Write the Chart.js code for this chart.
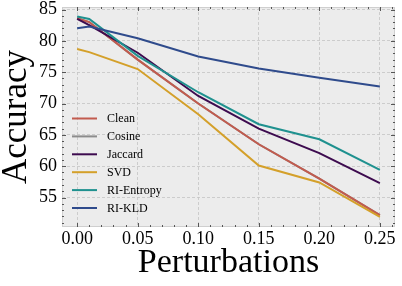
<!DOCTYPE html>
<html>
<head>
<meta charset="utf-8">
<script src="https://cdn.jsdelivr.net/npm/chart.js@4"></script>
<style>
  html, body { margin: 0; padding: 0; background: #fff; }
  #wrap { width: 402px; height: 286px; }
</style>
</head>
<body>
<div id="wrap"><canvas id="chart" width="402" height="286"></canvas></div>
<script>
// perturbation levels (x) and accuracy per method
const perturbations = [0, 0.01, 0.05, 0.10, 0.15, 0.20, 0.25];
const clean     = [83.6, 83.0, 77.0, 70.0, 63.5, 58.0, 52.2];
const cosine    = [83.6, 83.0, 77.0, 70.0, 63.5, 58.0, 52.2];
const jaccard   = [83.5, 82.5, 78.1, 71.2, 66.0, 62.1, 57.3];
const svd       = [78.7, 78.2, 75.5, 68.3, 60.1, 57.4, 51.9];
const riEntropy = [83.9, 83.5, 77.6, 71.8, 66.7, 64.3, 59.4];
const riKld     = [82.0, 82.3, 80.4, 77.5, 75.6, 74.1, 72.7];

const names  = ['Clean', 'Cosine', 'Jaccard', 'SVD', 'RI-Entropy', 'RI-KLD'];
const series = [clean, cosine, jaccard, svd, riEntropy, riKld];
const colors = ['#c25b4e', '#8c8c8c', '#3d0b4f', '#d4a02a', '#1f918f', '#2f4b8c'];

const serif = '"Liberation Serif", "Times New Roman", serif';

const datasets = series.map((vals, i) => ({
  label: names[i],
  data: vals.map((v, k) => ({x: perturbations[k], y: v})),
  borderColor: colors[i],
  backgroundColor: colors[i],
  borderWidth: 2,
  pointRadius: 0,
  tension: 0,
  // later series on top; cosine sits hidden under clean
  order: names[i] === 'Cosine' ? 20 : names.length - i
}));

// grey panel behind the plot
const panelBg = {
  id: 'panelBg',
  beforeDraw(chart) {
    const a = chart.chartArea, ctx = chart.ctx;
    ctx.save();
    ctx.fillStyle = '#ececec';
    ctx.fillRect(a.left, a.top, a.right - a.left, a.bottom - a.top);
    ctx.restore();
  }
};

// frame + inward major/minor ticks on all four sides
const frameTicks = {
  id: 'frameTicks',
  afterDraw(chart) {
    const a = chart.chartArea, ctx = chart.ctx;
    const xs = chart.scales.x, ys = chart.scales.y;
    ctx.save();
    ctx.strokeStyle = '#cfcfcf';
    ctx.lineWidth = 1;
    ctx.strokeRect(a.left + 0.5, a.top + 0.5, a.right - a.left - 1, a.bottom - a.top - 1);
    ctx.strokeStyle = '#555';
    ctx.beginPath();
    for (let i = 0; i <= 26; i++) {
      const v = i / 100;
      const px = Math.round(xs.getPixelForValue(v)) + 0.5;
      const len = (i % 5 === 0) ? 4 : 2;
      ctx.moveTo(px, a.bottom); ctx.lineTo(px, a.bottom - len);
      ctx.moveTo(px, a.top); ctx.lineTo(px, a.top + len);
    }
    for (let v = 51; v <= 85; v++) {
      const py = Math.round(ys.getPixelForValue(v)) + 0.5;
      const len = (v % 5 === 0) ? 4 : 2;
      ctx.moveTo(a.left, py); ctx.lineTo(a.left + len, py);
      ctx.moveTo(a.right, py); ctx.lineTo(a.right - len, py);
    }
    ctx.stroke();
    ctx.restore();
  }
};

// legend inside the lower-left of the plot
const innerLegend = {
  id: 'innerLegend',
  afterDatasetsDraw(chart) {
    const ctx = chart.ctx;
    ctx.save();
    ctx.font = '12px ' + serif;
    ctx.textBaseline = 'middle';
    ctx.fillStyle = '#000';
    chart.data.datasets.forEach((ds, i) => {
      const y = 118.5 + i * 17.9;
      ctx.strokeStyle = ds.borderColor;
      ctx.lineWidth = 2;
      ctx.beginPath();
      ctx.moveTo(72, y); ctx.lineTo(97, y);
      ctx.stroke();
      ctx.fillText(ds.label, 107, y + 0.5);
    });
    ctx.restore();
  }
};

new Chart(document.getElementById('chart'), {
  type: 'line',
  data: { datasets: datasets },
  options: {
    responsive: false,
    animation: false,
    layout: { padding: { top: 7, right: 7, left: 0, bottom: 0 } },
    plugins: { legend: { display: false }, tooltip: { enabled: false } },
    scales: {
      x: {
        type: 'linear',
        min: -0.0125,
        max: 0.2625,
        afterFit: s => { s.height = 59; s.paddingLeft = 0; s.paddingRight = 0; },
        ticks: {
          stepSize: 0.05,
          includeBounds: false,
          padding: 1,
          color: '#000',
          maxRotation: 0,
          font: { family: serif, size: 18 },
          callback: v => v.toFixed(2)
        },
        grid: { color: '#c4c4c4', lineWidth: 0.8, drawTicks: false },
        border: { display: false, dash: [3, 2] },
        title: {
          display: true,
          text: 'Perturbations',
          color: '#000',
          font: { family: serif, size: 34, lineHeight: 1 },
          padding: { top: 0, bottom: 6 }
        }
      },
      y: {
        min: 50.3,
        max: 85.4,
        afterFit: s => { s.width = 62; s.paddingTop = 0; s.paddingBottom = 0; },
        ticks: {
          stepSize: 5,
          includeBounds: false,
          padding: 5,
          color: '#000',
          font: { family: serif, size: 18 },
          callback: v => String(v)
        },
        grid: { color: '#c4c4c4', lineWidth: 0.8, drawTicks: false },
        border: { display: false, dash: [3, 2] },
        title: {
          display: true,
          text: 'Accuracy',
          color: '#000',
          font: { family: serif, size: 35, lineHeight: 1 },
          padding: { top: -1, bottom: 0 }
        }
      }
    }
  },
  plugins: [panelBg, frameTicks, innerLegend]
});
</script>
</body>
</html>
